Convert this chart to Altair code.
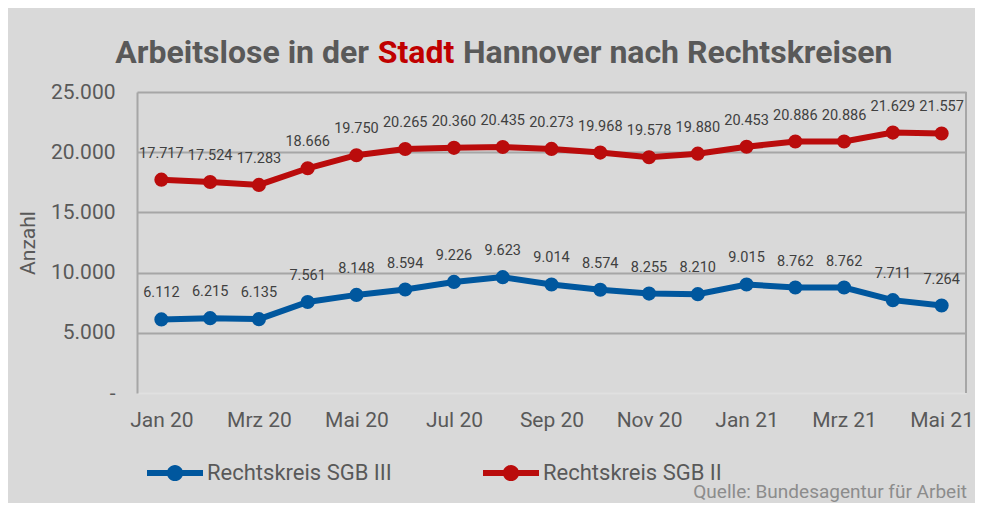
import altair as alt
import pandas as pd

months = ["Jan 20", "Feb 20", "Mrz 20", "Apr 20", "Mai 20", "Jun 20", "Jul 20", "Aug 20",
          "Sep 20", "Okt 20", "Nov 20", "Dez 20", "Jan 21", "Feb 21", "Mrz 21", "Apr 21", "Mai 21"]
sgb3 = [6112, 6215, 6135, 7561, 8148, 8594, 9226, 9623, 9014, 8574, 8255, 8210, 9015, 8762, 8762, 7711, 7264]
sgb2 = [17717, 17524, 17283, 18666, 19750, 20265, 20360, 20435, 20273, 19968, 19578, 19880, 20453, 20886, 20886, 21629, 21557]
series_names = ["Rechtskreis SGB III", "Rechtskreis SGB II"]
series_colors = ["#00579E", "#BA0C0C"]
shown_months = months[::2]
y_ticks = [0, 5000, 10000, 15000, 20000, 25000]

title_parts = ["Arbeitslose in der", "Stadt", "Hannover nach Rechtskreisen"]
source_text = ["Quelle: Bundesagentur für Arbeit"]

rows = []
for name, vals in zip(series_names, [sgb3, sgb2]):
    for m, v in zip(months, vals):
        rows.append({"Monat": m, "Serie": name, "Anzahl": v,
                     "Label": f"{v:,}".replace(",", ".")})
df = pd.DataFrame(rows)

W, H = 829, 301
BG = "#D9D9D9"
GRID = "#A6A6A6"
TXT = "#595959"
FONT = "Roboto"

xenc = alt.X("Monat:N", sort=months,
             scale=alt.Scale(type="point", padding=0.5),
             axis=alt.Axis(values=shown_months, title=None, labelAngle=0, ticks=False,
                           domain=False, grid=False, labelFont=FONT, labelFontSize=21,
                           labelColor=TXT, labelPadding=16))
yenc = alt.Y("Anzahl:Q", scale=alt.Scale(domain=[0, 25000], nice=False, zero=True),
             axis=alt.Axis(values=y_ticks,
                           labelExpr="datum.value == 0 ? '-' : replace(format(datum.value, ','), ',', '.')",
                           title="Anzahl", titleFont=FONT, titleFontSize=21, titleFontWeight="normal",
                           titleColor=TXT, titlePadding=12,
                           ticks=False, labelFont=FONT, labelFontSize=21, labelColor=TXT,
                           labelPadding=22, domain=True, domainColor=GRID, domainWidth=2,
                           grid=True,
                           gridColor={"condition": {"test": "datum.value === 0", "value": "#E0E0E0"},
                                      "value": GRID},
                           gridWidth=2))

base = alt.Chart(df)

legend_path = ("M-1,-0.11 L1,-0.11 L1,0.11 L-1,0.11 Z "
               "M-0.29,0 A0.29,0.29 0 1,1 0.29,0 A0.29,0.29 0 1,1 -0.29,0 Z")

# stroke scale uses reversed domain/range (same mapping) so it is not merged with the color legend
lines = base.mark_line(strokeWidth=6).encode(
    x=xenc, y=yenc,
    stroke=alt.Stroke("Serie:N", scale=alt.Scale(domain=series_names[::-1], range=series_colors[::-1]),
                      legend=None),
    detail="Serie:N",
)
points = base.mark_circle(size=200, opacity=1).encode(
    x=xenc, y=yenc,
    color=alt.Color("Serie:N", scale=alt.Scale(domain=series_names, range=series_colors),
                    legend=alt.Legend(title=None, orient="none", legendX=10, legendY=353,
                                      direction="horizontal", symbolType=legend_path,
                                      symbolSize=3136, symbolStrokeWidth=0, symbolOpacity=1,
                                      labelFont=FONT, labelFontSize=22, labelColor=TXT,
                                      labelOffset=4, columnPadding=91, padding=0,
                                      labelLimit=400)),
)
labels = base.mark_text(font=FONT, fontSize=14.5, color="#404040", dy=-22,
                        baseline="alphabetic").encode(
    x=xenc, y=yenc, text="Label:N"
)

right_border = alt.Chart(pd.DataFrame({"a": [0]})).mark_rule(color=GRID, strokeWidth=2).encode(
    x=alt.value(W), y=alt.value(0), y2=alt.value(H)
)

TS = 32
t1 = alt.Chart(pd.DataFrame({"t": [title_parts[0]]})).mark_text(
    font=FONT, fontSize=TS, fontWeight="bold", color=TXT, align="right", baseline="alphabetic"
).encode(text="t:N", x=alt.value(232), y=alt.value(-29))
t2 = alt.Chart(pd.DataFrame({"t": [title_parts[1]]})).mark_text(
    font=FONT, fontSize=TS, fontWeight="bold", color="#C00000", align="center", baseline="alphabetic"
).encode(text="t:N", x=alt.value(279), y=alt.value(-29))
t3 = alt.Chart(pd.DataFrame({"t": [title_parts[2]]})).mark_text(
    font=FONT, fontSize=TS, fontWeight="bold", color=TXT, align="left", baseline="alphabetic"
).encode(text="t:N", x=alt.value(326), y=alt.value(-29))

src = alt.Chart(pd.DataFrame({"t": source_text})).mark_text(
    font=FONT, fontSize=19, color="#8C8C8C", align="right", baseline="middle"
).encode(text="t:N", x=alt.value(830), y=alt.value(400))

chart = alt.layer(right_border, lines, points, labels, t1, t2, t3, src).properties(
    width=W, height=H, background=BG,
    padding={"left": 129, "top": 84, "right": 9, "bottom": 110},
    autosize=alt.AutoSizeParams(type="none"),
).configure_view(stroke=None)

chart.save("out.html", embed_options={"renderer": "svg", "actions": False})
